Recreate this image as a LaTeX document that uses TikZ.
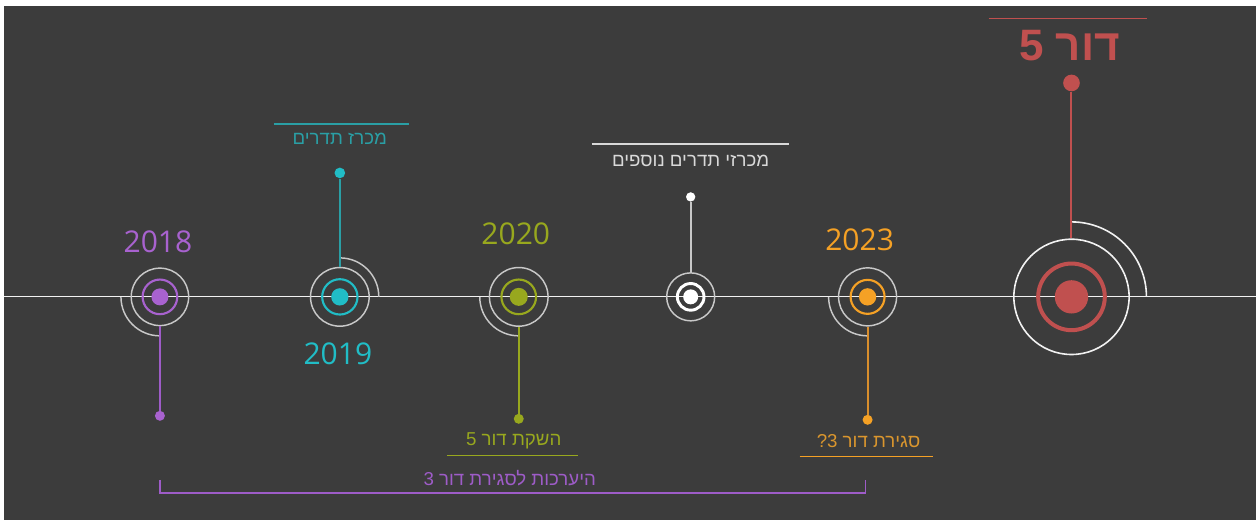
\documentclass[tikz,border=0pt]{standalone}
\usepackage{fontspec}
\setmainfont{Open Sans}
\newfontfamily\hebfont[Script=Hebrew]{Liberation Sans}
\TeXXeTstate=1
\definecolor{bg}{HTML}{3C3C3C}
\definecolor{ringgray}{HTML}{C8C8C8}
\definecolor{cpurple}{HTML}{A862CF}
\definecolor{cpurpleline}{HTML}{9E5CC8}
\definecolor{cteal}{HTML}{21BDC6}
\definecolor{ctealline}{HTML}{2A9FA5}
\definecolor{colive}{HTML}{98A81E}
\definecolor{corange}{HTML}{F5A125}
\definecolor{corangeline}{HTML}{D98E2C}
\definecolor{corangetext}{HTML}{DA962E}
\definecolor{cred}{HTML}{C0504F}
\definecolor{cwhite}{HTML}{F2F2F2}
\definecolor{ctext}{HTML}{D9D9D9}
\begin{document}
\begin{tikzpicture}[x=0.75pt,y=-0.75pt,
  dotn/.style={circle,inner sep=0pt,minimum size=#1,draw=none},
  ringn/.style={circle,inner sep=0pt,minimum size=#1},
  gring/.style={draw=ringgray,line width=1.1pt},
  garc/.style={draw=ringgray,line width=1.1pt},
  heb/.style={font=\hebfont\fontsize{14}{16}\selectfont,inner sep=0pt},
  year/.style={font=\fontsize{22.5}{26}\selectfont,inner sep=0pt},
  stem/.style={line width=1.5pt},
  uline/.style={line width=0.9pt}]
% background
\fill[white] (0,0) rectangle (1257,522);
\fill[bg] (4,6) rectangle (1257,520);
% timeline
\coordinate (tlA) at (4,297);
\coordinate (tlB) at (1257,297);
\draw[cwhite,line width=0.9pt] (tlA) -- (tlB);

% ---------- 2018 ----------
\node[dotn=12.75pt,fill=cpurple] (d1) at (160,297) {};
\node[ringn=26pt,draw=cpurple,line width=1.6pt] (r1) at (d1) {};
\node[ringn=43.1pt,gring] (o1) at (d1) {};
\draw[garc] (d1) ++(-39,0) arc[start angle=180,end angle=90,radius=39];
\node[dotn=7.5pt,fill=cpurple] (s1) at (160,416) {};
\draw[cpurpleline,stem] (o1.south) -- (s1);
\node[year,text=cpurple] (y1) at (158,242) {2018};

% ---------- 2019 ----------
\node[dotn=13pt,fill=cteal] (d2) at (340,297) {};
\node[ringn=26.5pt,draw=cteal,line width=1.6pt] (r2) at (d2) {};
\node[ringn=44pt,gring] (o2) at (d2) {};
\draw[garc] (d2) ++(0,-39) arc[start angle=270,end angle=360,radius=39];
\node[dotn=8pt,fill=cteal] (s2) at (340,173) {};
\draw[ctealline,stem] (o2.north) -- (s2);
\node[year,text=cteal] (y2) at (338,354) {2019};
\node[heb,text=ctealline] (t2) at (340,139) {\beginR מכרז תדרים\endR};
\coordinate (u2a) at (274,124);
\coordinate (u2b) at (409,124);
\draw[ctealline,uline] (u2a) -- (u2b);

% ---------- 2020 ----------
\node[dotn=13.5pt,fill=colive] (d3) at (519,297) {};
\node[ringn=26pt,draw=colive,line width=1.6pt] (r3) at (d3) {};
\node[ringn=44pt,gring] (o3) at (d3) {};
\draw[garc] (d3) ++(-39,0) arc[start angle=180,end angle=90,radius=39];
\node[dotn=7.5pt,fill=colive] (s3) at (519,419) {};
\draw[colive,stem] (o3.south) -- (s3);
\node[year,text=colive] (y3) at (516,234) {2020};
\node[heb,text=colive] (t3) at (514,441) {\beginR השקת דור 5\endR};
\coordinate (u3a) at (447,455.5);
\coordinate (u3b) at (578,455.5);
\draw[colive,uline] (u3a) -- (u3b);

% ---------- white node ----------
\node[dotn=11.25pt,fill=white] (d4) at (691,297) {};
\node[ringn=20pt,draw=white,line width=2.2pt] (r4) at (d4) {};
\node[ringn=36pt,gring] (o4) at (d4) {};
\node[dotn=7pt,fill=white] (s4) at (691,197) {};
\draw[ringgray,line width=1.25pt] (o4.north) -- (s4);
\node[heb,text=ctext] (t4) at (691,161) {\beginR מכרזי תדרים נוספים\endR};
\coordinate (u4a) at (592,144);
\coordinate (u4b) at (789,144);
\draw[ctext,uline] (u4a) -- (u4b);

% ---------- 2023 ----------
\node[dotn=13pt,fill=corange] (d5) at (868,297) {};
\node[ringn=25.5pt,draw=corange,line width=1.6pt] (r5) at (d5) {};
\node[ringn=43.5pt,gring] (o5) at (d5) {};
\draw[garc] (d5) ++(-39,0) arc[start angle=180,end angle=90,radius=39];
\node[dotn=7.5pt,fill=corange] (s5) at (868,420) {};
\draw[corangeline,stem] (o5.south) -- (s5);
\node[year,text=corange] (y5) at (860,240) {2023};
\node[heb,text=corangetext] (t5) at (869,441) {\beginR סגירת דור 3?\endR};
\coordinate (u5a) at (800,456.5);
\coordinate (u5b) at (933,456.5);
\draw[corange,uline] (u5a) -- (u5b);

% ---------- dor 5 ----------
\node[dotn=25pt,fill=cred] (d6) at (1072,297) {};
\node[ringn=50pt,draw=cred,line width=3pt] (r6) at (d6) {};
\node[ringn=86.5pt,draw=cwhite,line width=1.2pt] (o6) at (d6) {};
\draw[cwhite,line width=1.2pt] (d6) ++(0,-75) arc[start angle=270,end angle=360,radius=75];
\node[dotn=12.5pt,fill=cred] (s6) at (1072,83) {};
\draw[cred,stem] (o6.north) -- (s6);
\node[text=cred,inner sep=0pt,font=\hebfont\bfseries\fontsize{33}{36}\selectfont] (t6) at (1070,46) {\beginR דור 5\endR};
\coordinate (u6a) at (989,18.5);
\coordinate (u6b) at (1148,18.5);
\draw[cred,uline] (u6a) -- (u6b);

% ---------- bracket ----------
\coordinate (b1) at (160,480);
\coordinate (b2) at (866,480);
\draw[cpurpleline,line width=1.3pt] (b1) -- (160,493.5) -- (866,493.5) -- (b2);
\node[heb,text=cpurpleline] (t7) at (510,478) {\beginR היערכות לסגירת דור 3\endR};
\end{tikzpicture}
\end{document}
